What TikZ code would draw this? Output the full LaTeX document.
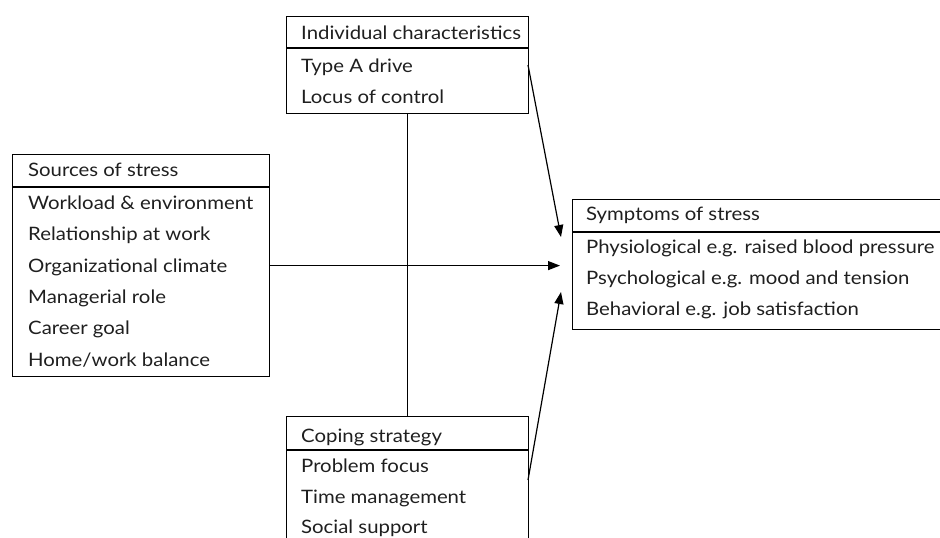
\documentclass[tikz,border=0pt]{standalone}
\usepackage{fontspec}
\setmainfont[FakeStretch=1.1]{Lato}
\usetikzlibrary{arrows.meta}
\begin{document}
\begin{tikzpicture}[x=1pt,y=-1pt,
  box/.style={draw, line width=1.2pt, rectangle, inner sep=0pt, anchor=north west},
  divider/.style={line width=1.8pt},
  lbl/.style={anchor=base west, inner sep=0pt, font=\fontsize{18.5}{20}\selectfont, text=black!88},
  conn/.style={line width=1.2pt},
  arr/.style={line width=1.2pt, -{Triangle[length=12pt,width=9pt]}}]
\useasboundingbox (0,0) rectangle (940,538);
\clip (0,0) rectangle (940,538);

% Individual characteristics
\node[box, minimum width=242pt, minimum height=97pt] (ind) at (286,16) {};
\draw[divider] (286,48) -- (528,48);
\node[lbl] (ind0) at (301,39) {Individual characteristics};
\node[lbl] (ind1) at (301,72) {Type A drive};
\node[lbl] (ind2) at (301,103) {Locus of control};

% Sources of stress
\node[box, minimum width=257pt, minimum height=222pt] (src) at (12,154) {};
\draw[divider] (12,187) -- (269,187);
\node[lbl] (src0) at (28,176) {Sources of stress};
\node[lbl] (src1) at (28,209) {Workload \& environment};
\node[lbl] (src2) at (28,240) {Relationship at work};
\node[lbl] (src3) at (28,272) {Organizational climate};
\node[lbl] (src4) at (28,303) {Managerial role};
\node[lbl] (src5) at (28,334) {Career goal};
\node[lbl] (src6) at (28,366) {Home/work balance};

% Symptoms of stress
\node[box, minimum width=420pt, minimum height=130pt] (sym) at (572,199) {};
\draw[divider] (572,232) -- (990,232);
\node[lbl] (sym0) at (586,220) {Symptoms of stress};
\node[lbl] (sym1) at (586,253) {Physiological e.g. raised blood pressure};
\node[lbl] (sym2) at (586,284) {Psychological e.g. mood and tension};
\node[lbl] (sym3) at (586,315) {Behavioral e.g. job satisfaction};

% Coping strategy
\node[box, minimum width=242pt, minimum height=160pt] (cop) at (286,416) {};
\draw[divider] (286,450) -- (528,450);
\node[lbl] (cop0) at (301,442) {Coping strategy};
\node[lbl] (cop1) at (301,472) {Problem focus};
\node[lbl] (cop2) at (301,503) {Time management};
\node[lbl] (cop3) at (301,533) {Social support};

% connectors
\coordinate (indout) at (528,65);
\coordinate (symin1) at (561,237);
\coordinate (copout) at (528,480);
\coordinate (symin3) at (561,292);
\draw[conn] (ind.south) -- (cop.north);
\draw[arr] (src.east) -- ([xshift=-12pt]sym.west |- src.east);
\draw[arr] (indout) -- (symin1);
\draw[arr] (copout) -- (symin3);
\end{tikzpicture}
\end{document}
